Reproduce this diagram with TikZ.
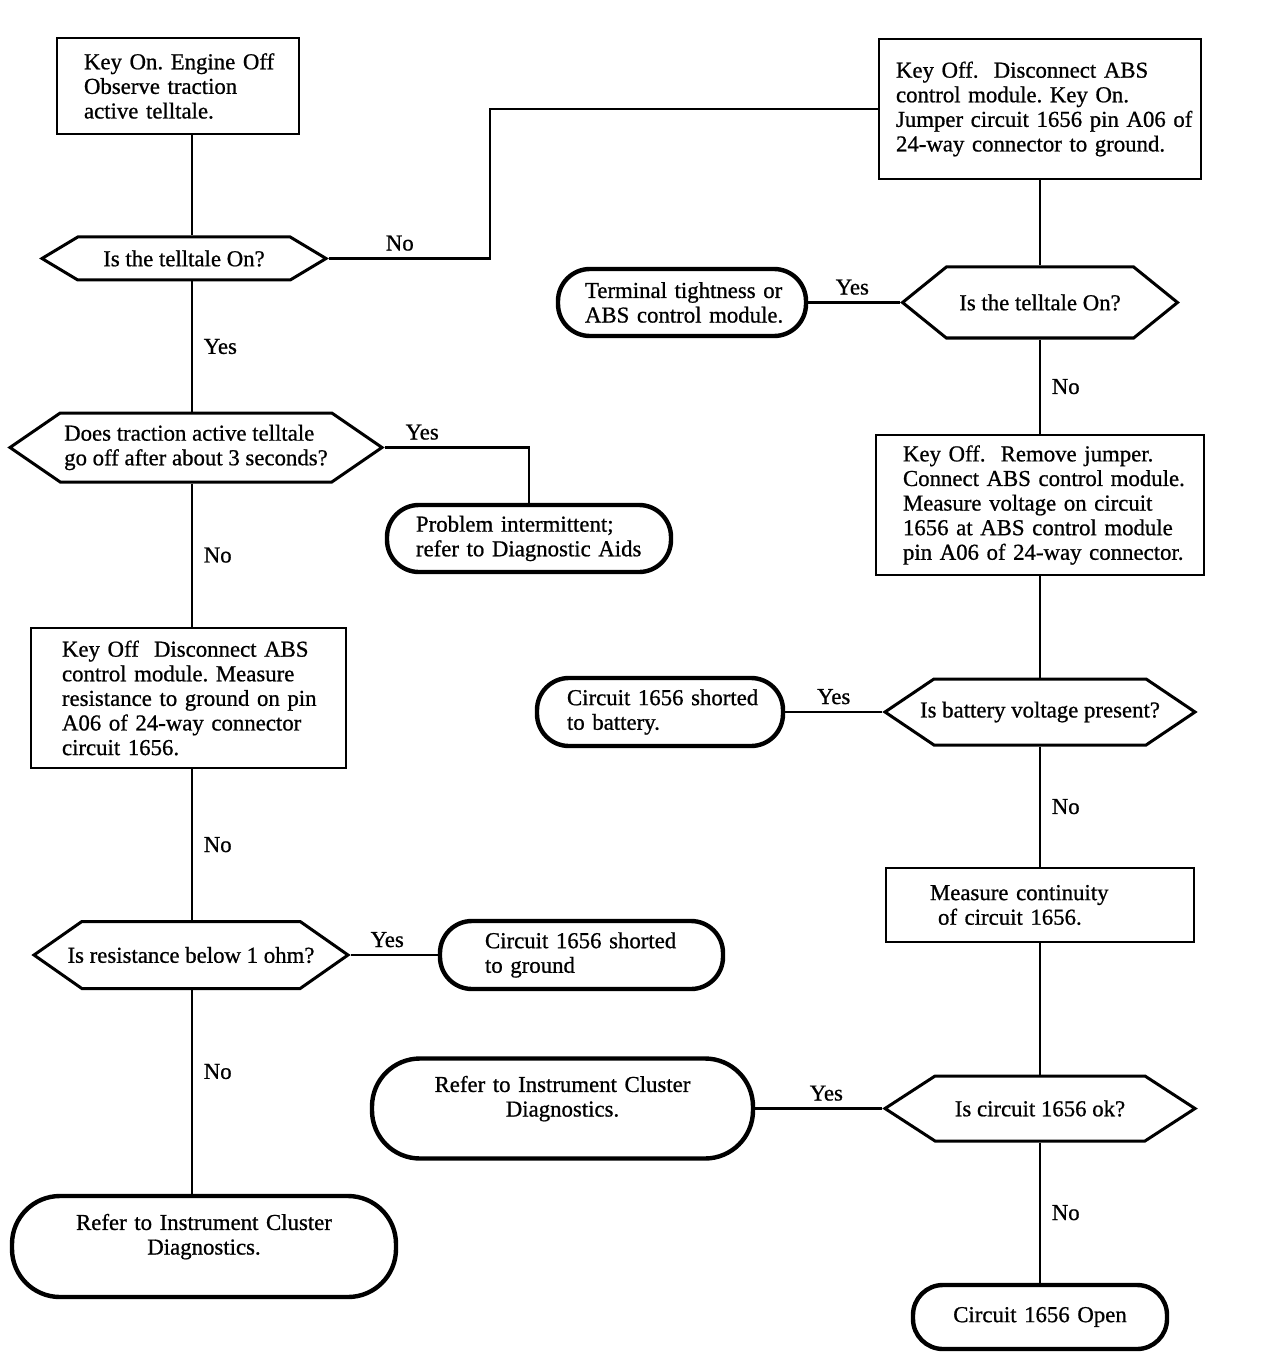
\documentclass[tikz,border=0pt]{standalone}
\usepackage{fontspec}
\setmainfont{Liberation Serif}[FakeBold=0.8]
\usetikzlibrary{shapes.symbols}
\frenchspacing

\tikzset{
	wire/.style={line width=1.1pt},
	stepbox/.style={draw,rectangle,line width=1.3pt,align=left,inner xsep=0pt,inner ysep=0pt},
	question/.style={draw,signal,signal to=east and west,signal pointer angle=#1,line width=1.5pt,align=left,inner xsep=-12pt,inner ysep=0pt},
	question/.default=70,
	stopbox/.style={draw,rectangle,rounded corners=#1,line width=2.2pt,inner xsep=0pt,inner ysep=0pt},
	stopbox/.default=16pt,
	boxsize/.style 2 args={minimum width=#1,minimum height=#2,text width=#1},
	leftpad/.style={align=left,execute at begin node={\leftskip=#1\relax}},
}

\begin{document}
\begin{tikzpicture}[x=0.5pt,y=-0.5pt,every node/.style={font=\fontsize{11.4}{12.3}\selectfont}]
	\useasboundingbox (0,0) rectangle (1280,1358);
	% Points
	\coordinate (LC) at (192,0);
	\coordinate (NoBend) at (490,109);

	% Left column
	\node[stepbox,boxsize={121pt}{48pt},leftpad=13.5pt] (B1) at (178,86)
		{Key On. Engine Off\\Observe traction\\active telltale.};
	\node[question=62,minimum width=142pt,minimum height=21.5pt] (D1) at (184,258.5)
		{Is the telltale On?};
	\node[question=69,minimum width=186pt,minimum height=34.5pt] (D2) at (196,447.5)
		{Does traction active telltale\\go off after about 3 seconds?};
	\node[stopbox,boxsize={142pt}{33.5pt},leftpad=14.5pt] (T1) at (529,538.5)
		{Problem intermittent;\\refer to Diagnostic Aids};
	\node[stepbox,boxsize={157.5pt}{70pt},leftpad=15.5pt] (B2) at (188.5,698)
		{Key Off\ \ Disconnect ABS\\control module. Measure\\resistance to ground on pin\\A06 of 24-way connector\\circuit 1656.};
	\node[question=70,minimum width=157pt,minimum height=33.5pt] (D3) at (191,955)
		{Is resistance below 1 ohm?};
	\node[stopbox,boxsize={141.5pt}{34pt},leftpad=22.5pt] (T2) at (581.5,955)
		{Circuit 1656 shorted\\to ground};
	\node[stopbox=24pt,boxsize={192pt}{50.5pt},align=center] (T3) at (204,1246.5)
		{Refer to Instrument Cluster\\Diagnostics.\\\mbox{}};

	% Right column
	\node[stepbox,boxsize={161pt}{70pt},leftpad=8.5pt] (B3) at (1040,109)
		{Key Off.\ \ Disconnect ABS\\control module. Key On.\\Jumper circuit 1656 pin A06 of\\24-way connector to ground.};
	\node[question=78,minimum width=137.5pt,minimum height=35.5pt] (D4) at (1040,302.5)
		{Is the telltale On?};
	\node[stopbox,boxsize={124pt}{33.5pt},leftpad=13.5pt] (T4) at (682,302.5)
		{Terminal tightness or\\ABS control module.};
	\node[stepbox,boxsize={164pt}{70pt},leftpad=13.5pt] (B4) at (1040,505)
		{Key Off.\ \ Remove jumper.\\Connect ABS control module.\\Measure voltage on circuit\\1656 at ABS control module\\pin A06 of 24-way connector.};
	\node[question=68,minimum width=155pt,minimum height=33pt] (D5) at (1040,712)
		{Is battery voltage present?};
	\node[stopbox,boxsize={123pt}{34pt},leftpad=15pt] (T5) at (660,712)
		{Circuit 1656 shorted\\to battery.};
	\node[stepbox,boxsize={154pt}{37pt},leftpad=22pt] (B5) at (1040,905)
		{Measure continuity\\\hspace*{4pt}of circuit 1656.};
	\node[question=66,minimum width=155pt,minimum height=32.5pt] (D6) at (1040,1108.5)
		{Is circuit 1656 ok?};
	\node[stopbox=24pt,boxsize={190.5pt}{50pt},align=center] (T6) at (562.5,1108.5)
		{Refer to Instrument Cluster\\Diagnostics.\\\mbox{}};
	\node[stopbox=15pt,boxsize={127pt}{32pt},align=center] (T7) at (1040,1317)
		{Circuit 1656 Open};

	% Left connectors
	\draw[wire] (B1.south -| LC) -- (D1.north -| LC);
	\draw[wire] (D1.east) -| (NoBend) node[pos=0.22,above] {No} -- (B3.west);
	\draw[wire] (D1.south -| LC) -- node[right=2pt] {Yes} (D2.north -| LC);
	\draw[wire] (D2.east) -| node[pos=0.13,above] {Yes} (T1.north);
	\draw[wire] (D2.south -| LC) -- node[right=2pt] {No} (B2.north -| LC);
	\draw[wire] (B2.south -| LC) -- node[right=2pt] {No} (D3.north -| LC);
	\draw[wire] (D3.east) -- node[pos=0.42,above] {Yes} (T2.west);
	\draw[wire] (D3.south -| LC) -- node[pos=0.4,right=2pt] {No} (T3.north -| LC);

	% Right connectors
	\draw[wire] (B3.south) -- (D4.north);
	\draw[wire] (D4.west) -- node[pos=0.52,above] {Yes} (T4.east);
	\draw[wire] (D4.south) -- node[right=2pt] {No} (B4.north);
	\draw[wire] (B4.south) -- (D5.north);
	\draw[wire] (D5.west) -- node[above] {Yes} (T5.east);
	\draw[wire] (D5.south) -- node[right=2pt] {No} (B5.north);
	\draw[wire] (B5.south) -- (D6.north);
	\draw[wire] (D6.west) -- node[pos=0.44,above] {Yes} (T6.east);
	\draw[wire] (D6.south) -- node[right=2pt] {No} (T7.north);
\end{tikzpicture}
\end{document}
